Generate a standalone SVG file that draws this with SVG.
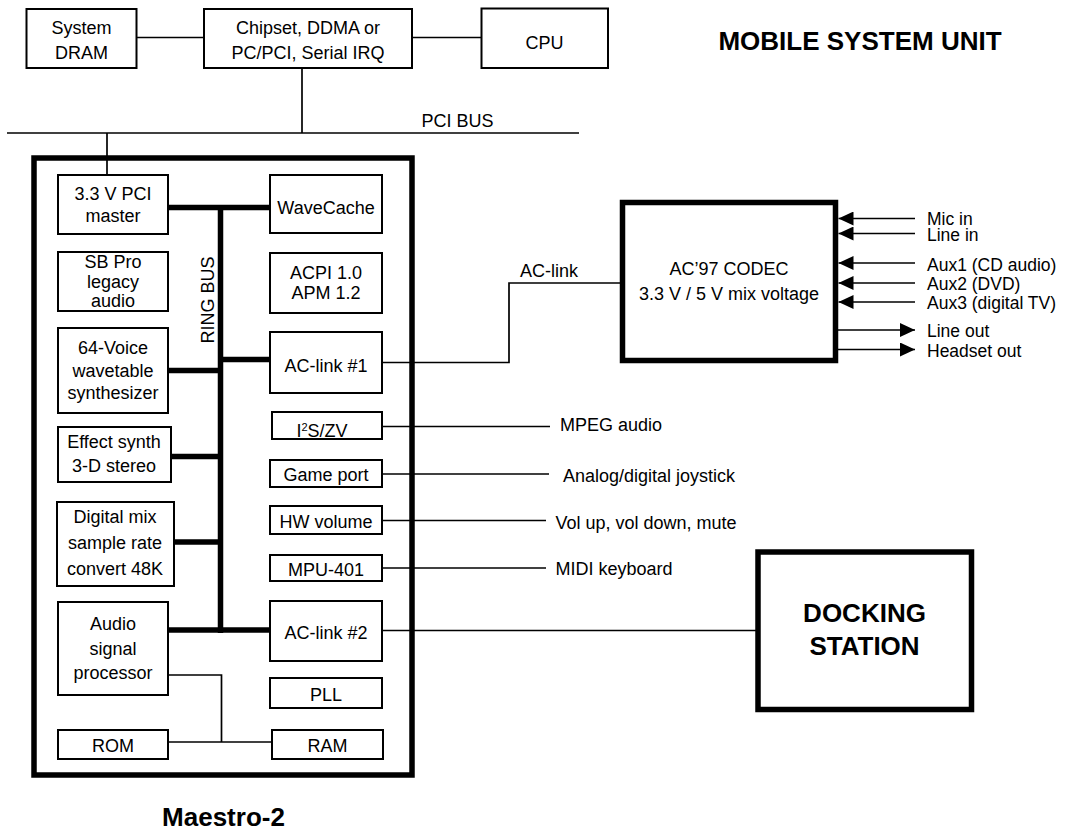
<svg xmlns="http://www.w3.org/2000/svg" width="1068" height="832" viewBox="0 0 1068 832">
<style>
  text { font-family: "Liberation Sans", Arial, sans-serif; font-size: 18px; fill: #000; }
  .c { text-anchor: middle; }
  .b { font-weight: bold; font-size: 26px; }
  .lbl { font-size: 17.5px; }
  .box { fill: #fff; stroke: #000; stroke-width: 2; }
  .thick { fill: #fff; stroke: #000; stroke-width: 5.5; }
  .ln { fill: none; stroke: #000; stroke-width: 1.7; }
  .ring { fill: none; stroke: #000; stroke-width: 5.5; }
</style>
<defs>
  <marker id="arr" markerUnits="userSpaceOnUse" markerWidth="15" markerHeight="14" refX="15" refY="7" orient="auto">
    <path d="M0,0 L15,7 L0,14 z" fill="#000"/>
  </marker>
</defs>
<rect width="1068" height="832" fill="#fff"/>

<g id="maestro-outline">
  <rect class="thick" x="34" y="158" width="378" height="617"/>
</g>

<g id="connectors">
  <!-- top system -->
  <line class="ln" x1="137" y1="37.5" x2="204" y2="37.5"/>
  <line class="ln" x1="412" y1="37.5" x2="481" y2="37.5"/>
  <line class="ln" x1="302" y1="68" x2="302" y2="133"/>
  <line class="ln" x1="7" y1="133" x2="579" y2="133"/>
  <line class="ln" x1="107" y1="133" x2="107" y2="175"/>
  <!-- ring bus -->
  <line class="ring" x1="220.5" y1="205" x2="220.5" y2="633"/>
  <line class="ring" x1="168" y1="207.5" x2="270" y2="207.5"/>
  <line class="ring" x1="168" y1="370.5" x2="220.5" y2="370.5"/>
  <line class="ring" x1="220.5" y1="359.5" x2="270" y2="359.5"/>
  <line class="ring" x1="171" y1="456.5" x2="220.5" y2="456.5"/>
  <line class="ring" x1="174" y1="542" x2="220.5" y2="542"/>
  <line class="ring" x1="168" y1="630" x2="270" y2="630"/>
  <!-- local memory -->
  <polyline class="ln" points="168,675 221.5,675 221.5,742"/>
  <line class="ln" x1="168" y1="742" x2="272" y2="742"/>
  <!-- external links -->
  <polyline class="ln" points="382,362.5 509,362.5 509,283 622,283"/>
  <line class="ln" x1="382" y1="426.5" x2="550" y2="426.5"/>
  <line class="ln" x1="382" y1="474" x2="549" y2="474"/>
  <line class="ln" x1="382" y1="520.5" x2="546" y2="520.5"/>
  <line class="ln" x1="382" y1="568" x2="546" y2="568"/>
  <line class="ln" x1="382" y1="630.5" x2="758" y2="630.5"/>
  <!-- codec inputs -->
  <line class="ln" x1="915" y1="218.5" x2="838.5" y2="218.5" marker-end="url(#arr)"/>
  <line class="ln" x1="915" y1="233.5" x2="838.5" y2="233.5" marker-end="url(#arr)"/>
  <line class="ln" x1="915" y1="263" x2="838.5" y2="263" marker-end="url(#arr)"/>
  <line class="ln" x1="915" y1="283" x2="838.5" y2="283" marker-end="url(#arr)"/>
  <line class="ln" x1="915" y1="302" x2="838.5" y2="302" marker-end="url(#arr)"/>
  <!-- codec outputs -->
  <line class="ln" x1="838" y1="330" x2="915" y2="330" marker-end="url(#arr)"/>
  <line class="ln" x1="838" y1="349.5" x2="915" y2="349.5" marker-end="url(#arr)"/>
</g>

<g id="labels">
  <text x="421.5" y="127">PCI BUS</text>
  <text x="520" y="277">AC-link</text>
  <text x="560" y="431">MPEG audio</text>
  <text x="563" y="481.5">Analog/digital joystick</text>
  <text x="555.5" y="528.5">Vol up, vol down, mute</text>
  <text x="555.5" y="575">MIDI keyboard</text>
  <text class="lbl" x="927" y="225">Mic in</text>
  <text class="lbl" x="927" y="241">Line in</text>
  <text class="lbl" x="927" y="271">Aux1 (CD audio)</text>
  <text class="lbl" x="927" y="290">Aux2 (DVD)</text>
  <text class="lbl" x="927" y="308.5">Aux3 (digital TV)</text>
  <text class="lbl" x="927" y="336.5">Line out</text>
  <text class="lbl" x="927" y="356.5">Headset out</text>
  <text class="b c" x="860" y="50">MOBILE SYSTEM UNIT</text>
  <text class="b c" x="223.5" y="826">Maestro-2</text>
  <text x="207" y="300" class="c" transform="rotate(-90 207 300)" dy="6.5">RING BUS</text>
</g>

<g id="system-dram">
  <rect class="box" x="26.5" y="9" width="110" height="59"/>
  <text class="c" x="81.5" y="33.5">System</text>
  <text class="c" x="81.5" y="58.5">DRAM</text>
</g>
<g id="chipset">
  <rect class="box" x="204" y="9" width="208" height="59"/>
  <text class="c" x="308" y="33.5">Chipset, DDMA or</text>
  <text class="c" x="308" y="58.5">PC/PCI, Serial IRQ</text>
</g>
<g id="cpu">
  <rect class="box" x="481.5" y="8.5" width="126.5" height="59.5"/>
  <text class="c" x="544.5" y="48.5">CPU</text>
</g>

<g id="pci-master">
  <rect class="box" x="58" y="175" width="110" height="59"/>
  <text class="c" x="113" y="200">3.3 V PCI</text>
  <text class="c" x="113" y="222">master</text>
</g>
<g id="sb-pro">
  <rect class="box" x="58" y="252" width="110" height="59"/>
  <text class="c" x="113" y="268">SB Pro</text>
  <text class="c" x="113" y="288">legacy</text>
  <text class="c" x="113" y="307">audio</text>
</g>
<g id="wavetable">
  <rect class="box" x="58" y="328" width="110" height="85"/>
  <text class="c" x="113" y="354">64-Voice</text>
  <text class="c" x="113" y="376.5">wavetable</text>
  <text class="c" x="113" y="398.5">synthesizer</text>
</g>
<g id="effect-synth">
  <rect class="box" x="58" y="427" width="113" height="55"/>
  <text class="c" x="114" y="448">Effect synth</text>
  <text class="c" x="114" y="471.5">3-D stereo</text>
</g>
<g id="digital-mix">
  <rect class="box" x="57" y="502" width="117" height="84"/>
  <text class="c" x="115" y="523">Digital mix</text>
  <text class="c" x="115" y="549">sample rate</text>
  <text class="c" x="115" y="575">convert 48K</text>
</g>
<g id="asp">
  <rect class="box" x="58" y="602" width="110" height="93"/>
  <text class="c" x="113" y="630">Audio</text>
  <text class="c" x="113" y="654.5">signal</text>
  <text class="c" x="113" y="678.5">processor</text>
</g>
<g id="rom">
  <rect class="box" x="58" y="730" width="110" height="29"/>
  <text class="c" x="113" y="751.5">ROM</text>
</g>

<g id="wavecache">
  <rect class="box" x="270" y="175" width="112" height="58"/>
  <text class="c" x="326" y="214">WaveCache</text>
</g>
<g id="acpi">
  <rect class="box" x="270" y="253" width="112" height="60"/>
  <text class="c" x="326" y="279">ACPI 1.0</text>
  <text class="c" x="326" y="299">APM 1.2</text>
</g>
<g id="ac-link-1">
  <rect class="box" x="270" y="332" width="112" height="61"/>
  <text class="c" x="326" y="371.5">AC-link #1</text>
</g>
<g id="i2s-zv">
  <rect class="box" x="272" y="412" width="110" height="27"/>
  <text class="c" x="322" y="436.5">I<tspan font-size="11" dy="-6">2</tspan><tspan dy="6">S/ZV</tspan></text>
</g>
<g id="game-port">
  <rect class="box" x="270" y="460" width="112" height="27"/>
  <text class="c" x="326" y="480.5">Game port</text>
</g>
<g id="hw-volume">
  <rect class="box" x="270" y="506" width="112" height="28"/>
  <text class="c" x="326" y="528">HW volume</text>
</g>
<g id="mpu-401">
  <rect class="box" x="270" y="555" width="112" height="26"/>
  <text class="c" x="326" y="575.5">MPU-401</text>
</g>
<g id="ac-link-2">
  <rect class="box" x="270" y="601" width="112" height="60"/>
  <text class="c" x="326" y="639">AC-link #2</text>
</g>
<g id="pll">
  <rect class="box" x="270" y="678" width="112" height="30"/>
  <text class="c" x="326" y="700.5">PLL</text>
</g>
<g id="ram">
  <rect class="box" x="272" y="730" width="111" height="29"/>
  <text class="c" x="327.5" y="751.5">RAM</text>
</g>

<g id="codec">
  <rect class="thick" x="622.5" y="202.5" width="213" height="158"/>
  <text class="c" x="729" y="275">AC’97 CODEC</text>
  <text class="c" x="729" y="300">3.3 V / 5 V mix voltage</text>
</g>

<g id="docking-station">
  <rect class="thick" x="758" y="552" width="213.5" height="157.5"/>
  <text class="b c" x="864.5" y="621.5">DOCKING</text>
  <text class="b c" x="864.5" y="655">STATION</text>
</g>
</svg>
